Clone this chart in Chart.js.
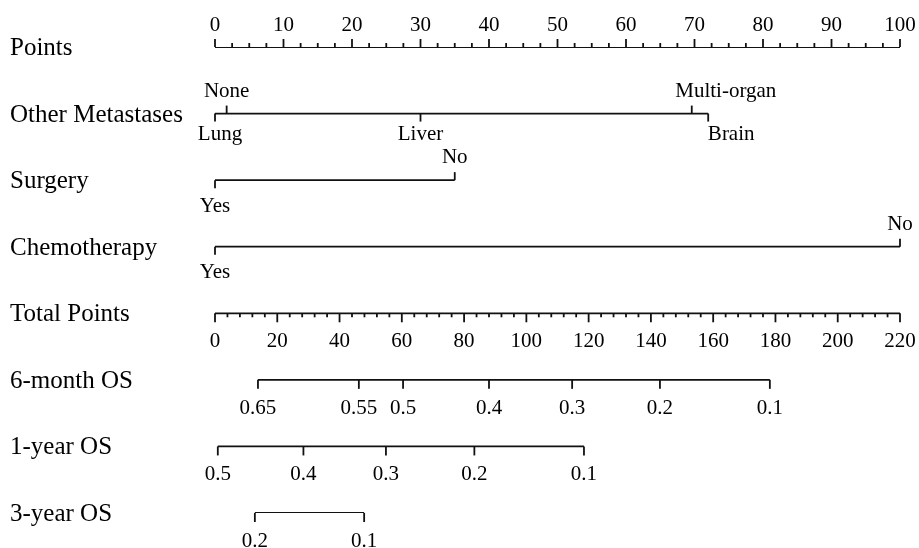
<!DOCTYPE html>
<html>
<head>
<meta charset="utf-8">
<script src="https://cdn.jsdelivr.net/npm/chart.js@4/dist/chart.umd.min.js"></script>
<style>
  body { margin: 0; background: #fff; }
  #wrap { width: 919px; height: 548px; position: relative; }
</style>
</head>
<body>
<div id="wrap"><canvas id="myChart"></canvas></div>
<script>
// rows of the nomogram, top to bottom
const rowNames = ['Points', 'Other Metastases', 'Surgery', 'Chemotherapy',
                  'Total Points', '6-month OS', '1-year OS', '3-year OS'];

// points scale (0-100) and total points scale (0-220)
const pointsTicks = [0, 10, 20, 30, 40, 50, 60, 70, 80, 90, 100];
const totalTicks = [0, 20, 40, 60, 80, 100, 120, 140, 160, 180, 200, 220];

// predictors, values in points
const metLabels = ['Lung', 'None', 'Liver', 'Multi-organ', 'Brain'];
const metPoints = [0, 1.7, 30, 69.6, 72];
const surgeryLabels = ['Yes', 'No'];
const surgeryPoints = [0, 35];
const chemoLabels = ['Yes', 'No'];
const chemoPoints = [0, 100];

// survival probabilities, placed on total points
const os6Labels = ['0.65', '0.55', '0.5', '0.4', '0.3', '0.2', '0.1'];
const os6Total = [13.8, 46.2, 60.4, 88.0, 114.7, 142.9, 178.2];
const os12Labels = ['0.5', '0.4', '0.3', '0.2', '0.1'];
const os12Total = [0.9, 28.4, 54.9, 83.3, 118.5];
const os36Labels = ['0.2', '0.1'];
const os36Total = [12.8, 47.9];

const ctx = document.getElementById('myChart');
const ink = '#111';
const aboveSet = ['None', 'Multi-organ', 'No'];
const nudge = { 'Lung': 5, 'Multi-organ': 34, 'Brain': 23 };

function seg(vals, row, axis) {
    return {
        data: [{x: Math.min(...vals), y: row}, {x: Math.max(...vals), y: row}],
        xAxisID: axis,
        showLine: true,
        borderColor: ink,
        borderWidth: 1.8,
        pointRadius: 0
    };
}

const nomoPlugin = {
    id: 'nomo',
    afterDatasetsDraw(chart) {
        const c = chart.ctx;
        const xs = chart.scales.x, xt = chart.scales.xt, ys = chart.scales.y;
        c.save();
        c.strokeStyle = ink;
        c.fillStyle = '#000';
        c.lineWidth = 1.8;
        function tick(px, py, len) {
            c.beginPath();
            c.moveTo(px, py);
            c.lineTo(px, py + len);
            c.stroke();
        }
        // row names
        c.font = '25px "Liberation Serif"';
        c.textAlign = 'left';
        c.textBaseline = 'alphabetic';
        rowNames.forEach((n, i) => c.fillText(n, 10, ys.getPixelForValue(i) + 8));

        c.font = '21px "Liberation Serif"';
        c.textAlign = 'center';

        // points axis, ticks up
        let y0 = ys.getPixelForValue(0);
        for (let v = 0; v <= 100; v += 2.5) tick(xs.getPixelForValue(v), y0, v % 10 === 0 ? -8 : -4);
        pointsTicks.forEach(v => c.fillText(String(v), xs.getPixelForValue(v), y0 - 16));

        // categorical rows
        function cats(labels, vals, row, belowOff) {
            const y = ys.getPixelForValue(row);
            labels.forEach((lab, i) => {
                const px = xs.getPixelForValue(vals[i]);
                const up = aboveSet.includes(lab);
                tick(px, y, up ? -8 : 8);
                const tx = px + (nudge[lab] || 0);
                c.fillText(lab, tx, up ? y - 17 : y + belowOff);
            });
        }
        cats(metLabels, metPoints, 1, 26);
        cats(surgeryLabels, surgeryPoints, 2, 32);
        cats(chemoLabels, chemoPoints, 3, 31);

        // total points axis, ticks down
        y0 = ys.getPixelForValue(4);
        for (let v = 0; v <= 220; v += 4) tick(xt.getPixelForValue(v), y0, v % 20 === 0 ? 9 : 4);
        totalTicks.forEach(v => c.fillText(String(v), xt.getPixelForValue(v), y0 + 34));

        // survival axes
        function surv(labels, vals, row) {
            const y = ys.getPixelForValue(row);
            labels.forEach((lab, i) => {
                const px = xt.getPixelForValue(vals[i]);
                tick(px, y, 9);
                c.fillText(lab, px, y + 34);
            });
        }
        surv(os6Labels, os6Total, 5);
        surv(os12Labels, os12Total, 6);
        surv(os36Labels, os36Total, 7);
        c.restore();
    }
};

new Chart(ctx, {
    type: 'scatter',
    data: {
        datasets: [
            seg([0, 100], 0, 'x'),
            seg(metPoints, 1, 'x'),
            seg(surgeryPoints, 2, 'x'),
            seg(chemoPoints, 3, 'x'),
            seg([0, 220], 4, 'xt'),
            seg(os6Total, 5, 'xt'),
            seg(os12Total, 6, 'xt'),
            seg(os36Total, 7, 'xt')
        ]
    },
    options: {
        responsive: true,
        maintainAspectRatio: false,
        animation: false,
        devicePixelRatio: 1,
        layout: { padding: { left: 215, right: 19, top: 47, bottom: 35 } },
        plugins: { legend: { display: false }, tooltip: { enabled: false } },
        scales: {
            x: { type: 'linear', min: 0, max: 100, display: false },
            xt: { type: 'linear', min: 0, max: 220, display: false },
            y: { type: 'linear', min: 0, max: 7, reverse: true, display: false }
        }
    },
    plugins: [nomoPlugin]
});
</script>
</body>
</html>
